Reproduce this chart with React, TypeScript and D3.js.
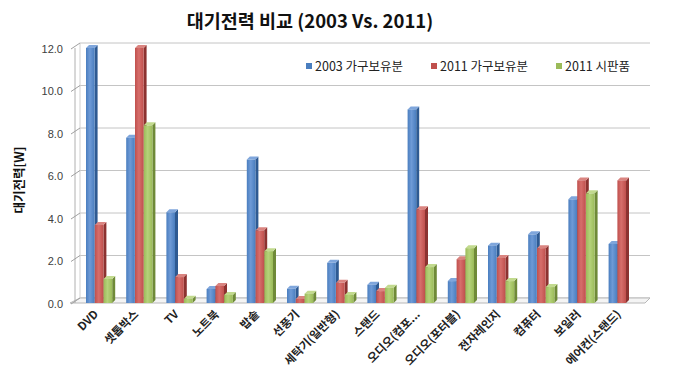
import React from "react";
import * as d3 from "d3";

const categories = ["DVD","셋톱박스","TV","노트북","밥솥","선풍기","세탁기(일반형)","스탠드","오디오(컴포...","오디오(포터블)","전자레인지","컴퓨터","보일러","에어컨(스탠드)"];
const seriesNames = ["2003 가구보유분","2011 가구보유분","2011 시판품"];
const values2003 = [12.0,7.78,4.27,0.66,6.75,0.67,1.89,0.86,9.11,1.03,2.7,3.23,4.88,2.78];
const values2011 = [3.67,12.0,1.22,0.8,3.42,0.19,0.95,0.56,4.41,2.06,2.12,2.58,5.77,5.77];
const valuesSale = [1.13,8.36,0.2,0.38,2.44,0.44,0.38,0.72,1.69,2.58,1.03,0.75,5.16,null];
const yTicks = [0,2,4,6,8,10,12];

const front = ["#4A7EBF","#C0504D","#9BBB59"];
const light = ["#6E9AD6","#D66E6B","#B5D27A"];
const side = ["#2E5A92","#8C3230","#6F8A38"];
const top = ["#7FA6DC","#DA8480","#C2DA8E"];

export default function App() {
  const W = 684, H = 383;
  const x = d3.scaleBand().domain(categories).range([78, 78 + 14 * 40.2]).paddingInner(0);
  const xs = d3.scaleBand().domain(seriesNames).range([0, 26.4]);
  const y = d3.scaleLinear().domain([0, 12]).range([303, 48]);
  const all = [values2003, values2011, valuesSale];
  const bw = 8.6, dd = 3;
  const backDx = 5, backDy = -5;
  return (
    <svg width={W} height={H} style={{ position: "absolute", left: 0, top: 0, background: "#fff" }} fontFamily="'Noto Sans CJK KR', 'Noto Sans', sans-serif">
      <defs>
        {front.map((c, i) => (
          <linearGradient key={i} id={"g" + i} x1="0" x2="1" y1="0" y2="0">
            <stop offset="0" stopColor={c} />
            <stop offset="0.45" stopColor={light[i]} />
            <stop offset="1" stopColor={c} />
          </linearGradient>
        ))}
      </defs>
      <text x={310} y={28} textAnchor="middle" fontSize={18.5} fontWeight="bold" fill="#111">대기전력 비교 (2003 Vs. 2011)</text>
      {/* back wall gridlines */}
      {yTicks.map(t => (
        <line key={"g" + t} x1={75 + backDx} x2={650} y1={y(t) + backDy} y2={y(t) + backDy} stroke="#c4c4c4" strokeWidth={1} />
      ))}
      {/* floor */}
      <path d={`M70,${y(0)} L645,${y(0)} L${645 + backDx},${y(0) + backDy} L${70 + backDx + 5},${y(0) + backDy} Z`} fill="#f4f4f4" stroke="#b8b8b8" strokeWidth={1} />
      {/* left axis */}
      <line x1={75} x2={75} y1={y(12)} y2={y(0)} stroke="#b0b0b0" />
      <line x1={75 + backDx} x2={75 + backDx} y1={y(12) + backDy} y2={y(0) + backDy} stroke="#d0d0d0" />
      {yTicks.map(t => (
        <g key={"t" + t}>
          <line x1={71} x2={75 + backDx} y1={y(t) + 1} y2={y(t) + backDy} stroke="#a0a0a0" />
          <text x={63} y={y(t) + 2} textAnchor="end" dominantBaseline="middle" fontSize={11} fill="#404040" fontFamily="'Liberation Sans', Arial, sans-serif">{t.toFixed(1)}</text>
        </g>
      ))}
      {/* bars */}
      {categories.map((c, ci) => (
        <g key={c}>
          {seriesNames.map((s, si) => {
            const v = all[si][ci];
            if (v == null) return null;
            const x0 = (x(c) as number) + 8 + (xs(s) as number);
            const yt = y(v), yb = y(0);
            return (
              <g key={s}>
                <path d={`M${x0 + bw},${yt} L${x0 + bw + dd},${yt - dd} L${x0 + bw + dd},${yb - dd} L${x0 + bw},${yb} Z`} fill={side[si]} />
                <path d={`M${x0},${yt} L${x0 + dd},${yt - dd} L${x0 + bw + dd},${yt - dd} L${x0 + bw},${yt} Z`} fill={top[si]} />
                <rect x={x0} y={yt} width={bw} height={yb - yt} fill={`url(#g${si})`} />
              </g>
            );
          })}
        </g>
      ))}
      {/* x labels */}
      {categories.map(c => {
        const cx = (x(c) as number) + x.bandwidth() / 2 + 1;
        return (
          <text key={"l" + c} transform={`translate(${cx},${315}) rotate(-45)`} textAnchor="end" fontSize={11.5} fontWeight="bold" fill="#222">{c}</text>
        );
      })}
      {/* y title */}
      <text transform={`translate(24,${180}) rotate(-90)`} textAnchor="middle" fontSize={12.5} fontWeight="bold" fill="#111">대기전력[W]</text>
      {/* legend */}
      {seriesNames.map((s, i) => {
        const lx = [306, 431, 556][i];
        return (
          <g key={"lg" + s}>
            <rect x={lx} y={63} width={6} height={6} fill={front[i]} />
            <text x={lx + 9} y={70.5} fontSize={12.5} fill="#222">{s}</text>
          </g>
        );
      })}
    </svg>
  );
}
